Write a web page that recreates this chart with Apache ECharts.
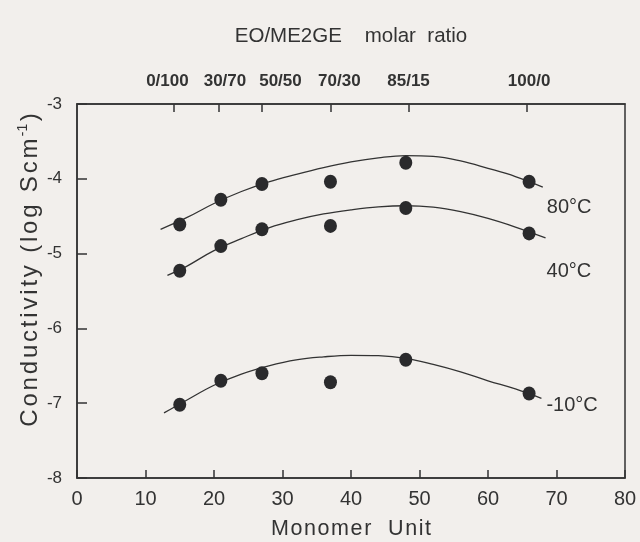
<!DOCTYPE html>
<html>
<head>
<meta charset="utf-8">
<script src="https://cdn.jsdelivr.net/npm/echarts@6/dist/echarts.min.js"></script>
<style>
  html, body { margin: 0; padding: 0; background: #f2efec; }
  #chart { width: 640px; height: 542px; }
</style>
</head>
<body>
<div id="chart"></div>
<script>
// Measured points: monomer unit vs log conductivity at three temperatures
const monomerUnits = [15, 21, 27, 37, 48, 66];
const cond80 = [-4.61, -4.28, -4.07, -4.04, -3.785, -4.04];
const cond40 = [-5.23, -4.90, -4.675, -4.63, -4.39, -4.73];
const condM10 = [-7.02, -6.70, -6.60, -6.72, -6.42, -6.87];

// Fitted trend curves, sampled along each curve
const fit80X = [12.2, 16, 20, 24, 28, 32, 36, 40, 44, 48, 52, 56, 60, 64, 68];
const fit80Y = [-4.675, -4.52, -4.33, -4.17, -4.04, -3.94, -3.85, -3.775, -3.72, -3.69, -3.70, -3.76, -3.86, -3.97, -4.11];
const fit40X = [13.2, 16, 20, 24, 28, 32, 36, 40, 44, 48, 52, 56, 60, 64, 68.4];
const fit40Y = [-5.29, -5.17, -4.96, -4.80, -4.655, -4.55, -4.47, -4.415, -4.375, -4.36, -4.38, -4.44, -4.53, -4.645, -4.79];
const fitM10X = [12.7, 16, 20, 24, 28, 32, 36, 40, 44, 48, 52, 56, 60, 64, 67.8];
const fitM10Y = [-7.13, -6.96, -6.76, -6.61, -6.50, -6.42, -6.38, -6.36, -6.365, -6.40, -6.48, -6.58, -6.70, -6.81, -6.935];

// Series names (temperatures)
const seriesNames = ['80\u00B0C', '40\u00B0C', '-10\u00B0C'];

// Top axis: EO/ME2GE molar ratio of each sample
const ratioLabels = ['0/100', '30/70', '50/50', '70/30', '85/15', '100/0'];
const ratioTickAt = [14.1, 20.7, 27.0, 37.1, 48.5, 65.7];
const ratioLabelAt = [13.2, 21.6, 29.7, 38.3, 48.4, 66.0];

// Axis ranges and tick steps
const xRange = [0, 80, 10];
const yRange = [-8, -3, 1];

const ink = '#333333';
const zip = (xs, ys) => xs.map((x, i) => [x, ys[i]]);
// Wrap each character in a rich token so it can be spaced out a little
const tracked = (text, style) =>
  Array.from(text).map(ch => '{' + style + '|' + ch + '}').join('');

const chart = echarts.init(document.getElementById('chart'), null, { renderer: 'canvas' });

const fits = [zip(fit80X, fit80Y), zip(fit40X, fit40Y), zip(fitM10X, fitM10Y)];
const points = [zip(monomerUnits, cond80), zip(monomerUnits, cond40), zip(monomerUnits, condM10)];
const endOffsets = [[0, 20], [-3, 34], [1, 7]];

const font = 'Liberation Sans, Arial, Helvetica, sans-serif';

const lineSeries = fits.map((d, i) => ({
  type: 'line',
  name: seriesNames[i],
  data: d,
  smooth: 0.4,
  showSymbol: false,
  symbol: 'none',
  silent: true,
  lineStyle: { color: ink, width: 1.3 },
  endLabel: {
    show: true,
    formatter: '{a}',
    color: ink,
    fontSize: 20,
    fontFamily: font,
    distance: 4,
    offset: endOffsets[i]
  },
  z: 2
}));

const dotSeries = points.map((d, i) => ({
  type: 'scatter',
  name: seriesNames[i] + ' data',
  data: d,
  symbol: 'circle',
  symbolSize: [13, 14],
  itemStyle: { color: '#2a2a2c', opacity: 1 },
  silent: true,
  z: 3
}));

chart.setOption({
  backgroundColor: '#f2efec',
  animation: false,
  textStyle: { fontFamily: font },
  grid: {
    left: 77, right: 15, top: 104, bottom: 64,
    show: true,
    borderColor: ink,
    borderWidth: 1.5,
    backgroundColor: 'transparent',
    outerBoundsMode: 'none'
  },
  xAxis: [
    {
      type: 'value',
      position: 'bottom',
      min: xRange[0], max: xRange[1], interval: xRange[2],
      splitLine: { show: false },
      axisLine: { show: true, lineStyle: { color: ink, width: 1.5 } },
      axisTick: { show: true, inside: true, length: 8, lineStyle: { color: ink, width: 1.5 } },
      axisLabel: { color: ink, fontSize: 20, margin: 11, fontFamily: font, showMinLabel: true, showMaxLabel: true },
      name: tracked('Monomer  Unit', 'u'),
      nameLocation: 'middle',
      nameGap: 40,
      nameTextStyle: {
        color: ink,
        rich: { u: { fontSize: 21.5, color: ink, fontFamily: font, padding: [0, 0.8, 0, 0.8] } }
      }
    },
    {
      type: 'value',
      position: 'top',
      min: xRange[0], max: xRange[1],
      splitLine: { show: false },
      axisLine: { show: true, lineStyle: { color: ink, width: 1.5 } },
      axisTick: { show: true, inside: true, length: 8, customValues: ratioTickAt, lineStyle: { color: ink, width: 1.5 } },
      axisLabel: {
        show: true,
        customValues: ratioLabelAt,
        formatter: v => {
          const i = ratioLabelAt.findIndex(p => Math.abs(p - v) < 1e-6);
          return i >= 0 ? ratioLabels[i] : '';
        },
        color: ink, fontSize: 17, fontWeight: 'bold', margin: 14, fontFamily: font
      },
      name: 'EO/ME2GE    molar  ratio',
      nameLocation: 'middle',
      nameGap: 57,
      nameTextStyle: { color: ink, fontSize: 20.5, fontFamily: font }
    }
  ],
  yAxis: {
    type: 'value',
    min: yRange[0], max: yRange[1], interval: yRange[2],
    splitLine: { show: false },
    axisLine: { show: true, lineStyle: { color: ink, width: 1.5 } },
    axisTick: { show: true, inside: true, length: 10, lineStyle: { color: ink, width: 1.5 } },
    axisLabel: { color: ink, fontSize: 17, margin: 15, fontFamily: font, showMinLabel: true, showMaxLabel: true }
  },
  graphic: [
    {
      type: 'text',
      x: 30,
      y: 270,
      rotation: Math.PI / 2,
      silent: true,
      style: {
        text: tracked('Conductivity (log Scm', 't') + '{s|-1}' + tracked(')', 't'),
        align: 'center',
        verticalAlign: 'middle',
        fill: ink,
        rich: {
          t: { fontSize: 24, lineHeight: 28, fill: ink, fontFamily: font, padding: [0, 1.4, 0, 1.4] },
          s: { fontSize: 14, lineHeight: 14, fill: ink, fontFamily: font, verticalAlign: 'top', padding: [0, 1, 0, 1] }
        }
      }
    }
  ],
  series: lineSeries.concat(dotSeries)
});
</script>
</body>
</html>
